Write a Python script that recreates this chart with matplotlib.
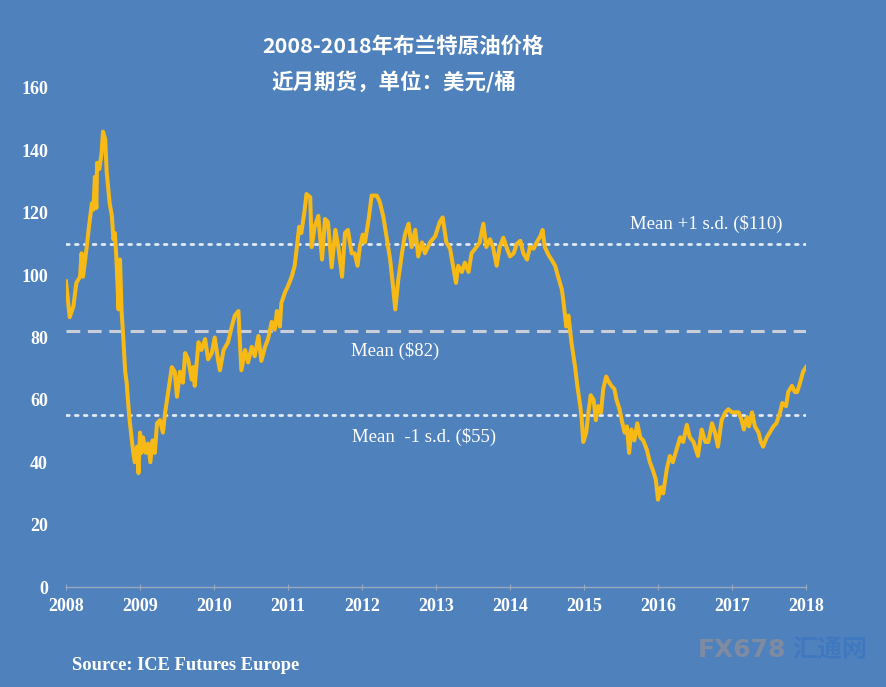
import matplotlib.pyplot as plt

# Brent front-month (fractional year, USD/bbl)
dates = [
    2008.00, 2008.05, 2008.10, 2008.14, 2008.19, 2008.21, 2008.23, 2008.28, 2008.31, 2008.35,
    2008.37, 2008.39, 2008.41, 2008.42, 2008.45, 2008.48, 2008.50, 2008.53, 2008.55, 2008.59,
    2008.62, 2008.64, 2008.66, 2008.68, 2008.71, 2008.73, 2008.75, 2008.77, 2008.80, 2008.82,
    2008.84, 2008.86, 2008.89, 2008.91, 2008.93, 2008.96, 2008.98, 2009.00, 2009.02, 2009.04,
    2009.08, 2009.11, 2009.14, 2009.17, 2009.20, 2009.23, 2009.27, 2009.31, 2009.34, 2009.38,
    2009.43, 2009.47, 2009.50, 2009.54, 2009.58, 2009.61, 2009.65, 2009.70, 2009.72, 2009.74,
    2009.79, 2009.83, 2009.88, 2009.92, 2009.97, 2010.01, 2010.06, 2010.08, 2010.13, 2010.19,
    2010.24, 2010.28, 2010.33, 2010.35, 2010.37, 2010.42, 2010.46, 2010.51, 2010.55, 2010.60,
    2010.64, 2010.69, 2010.73, 2010.78, 2010.82, 2010.85, 2010.89, 2010.91, 2010.96, 2011.00,
    2011.05, 2011.09, 2011.12, 2011.15, 2011.18, 2011.22, 2011.25, 2011.30, 2011.32, 2011.36,
    2011.41, 2011.46, 2011.50, 2011.54, 2011.59, 2011.64, 2011.68, 2011.73, 2011.77, 2011.81,
    2011.86, 2011.90, 2011.94, 2011.97, 2012.01, 2012.04, 2012.09, 2012.13, 2012.20, 2012.24,
    2012.29, 2012.33, 2012.38, 2012.41, 2012.45, 2012.49, 2012.54, 2012.58, 2012.63, 2012.67,
    2012.72, 2012.76, 2012.81, 2012.85, 2012.92, 2012.99, 2013.05, 2013.09, 2013.14, 2013.19,
    2013.23, 2013.27, 2013.30, 2013.35, 2013.39, 2013.44, 2013.48, 2013.53, 2013.59, 2013.64,
    2013.68, 2013.73, 2013.77, 2013.82, 2013.86, 2013.91, 2013.96, 2014.00, 2014.05, 2014.09,
    2014.14, 2014.18, 2014.23, 2014.27, 2014.32, 2014.36, 2014.41, 2014.44, 2014.47, 2014.52,
    2014.56, 2014.61, 2014.65, 2014.70, 2014.72, 2014.76, 2014.79, 2014.83, 2014.88, 2014.91,
    2014.95, 2014.97, 2014.99, 2015.03, 2015.06, 2015.09, 2015.13, 2015.16, 2015.19, 2015.23,
    2015.26, 2015.30, 2015.33, 2015.37, 2015.41, 2015.44, 2015.48, 2015.51, 2015.55, 2015.58,
    2015.61, 2015.64, 2015.68, 2015.72, 2015.76, 2015.80, 2015.85, 2015.89, 2015.93, 2015.97,
    2016.00, 2016.04, 2016.07, 2016.12, 2016.16, 2016.20, 2016.25, 2016.30, 2016.34, 2016.39,
    2016.43, 2016.48, 2016.54, 2016.59, 2016.64, 2016.68, 2016.73, 2016.77, 2016.81, 2016.86,
    2016.91, 2016.95, 2017.00, 2017.04, 2017.09, 2017.13, 2017.16, 2017.20, 2017.23, 2017.27,
    2017.31, 2017.36, 2017.39, 2017.42, 2017.47, 2017.51, 2017.56, 2017.60, 2017.65, 2017.68,
    2017.73, 2017.76, 2017.81, 2017.85, 2017.88, 2017.92, 2017.96, 2018.00,
]
prices = [
    98.0, 86.5, 90.0, 97.5, 99.5, 107.0, 99.5, 109.0, 115.5, 123.0,
    121.0, 131.5, 121.5, 136.0, 134.0, 139.0, 146.0, 143.5, 133.0, 123.0,
    119.0, 111.5, 113.5, 106.0, 89.0, 105.0, 89.0, 81.5, 69.0, 65.5,
    59.0, 53.5, 47.0, 43.0, 40.0, 45.0, 36.5, 49.5, 43.0, 48.0,
    43.0, 46.0, 40.0, 47.0, 43.0, 52.5, 53.5, 49.5, 56.0, 62.5,
    70.5, 69.0, 61.0, 69.0, 65.5, 75.0, 73.0, 66.5, 70.5, 64.5,
    78.5, 76.0, 79.5, 73.0, 75.0, 80.0, 72.0, 69.5, 76.0, 78.5,
    83.5, 87.0, 88.5, 78.5, 69.5, 76.0, 72.0, 77.0, 74.0, 80.5,
    72.5, 77.0, 79.5, 85.0, 82.5, 88.5, 83.5, 91.0, 94.5, 96.5,
    99.5, 103.0, 109.0, 115.5, 113.5, 120.0, 126.0, 125.0, 109.0, 115.5,
    119.0, 105.0, 118.0, 117.0, 102.5, 114.5, 109.0, 99.5, 113.5, 114.5,
    107.0, 107.0, 103.0, 109.0, 113.0, 110.5, 118.0, 125.5, 125.5, 123.5,
    118.5, 112.5, 105.0, 98.5, 89.0, 98.5, 107.0, 113.0, 116.5, 109.0,
    114.5, 106.0, 110.5, 107.0, 110.5, 112.5, 117.0, 118.5, 110.5, 108.5,
    103.0, 97.5, 103.0, 101.0, 104.0, 101.0, 107.0, 108.5, 110.5, 116.5,
    109.0, 111.5, 109.0, 103.0, 109.0, 112.0, 108.5, 106.0, 107.0, 110.0,
    111.0, 107.0, 105.0, 109.0, 108.5, 110.5, 112.5, 114.5, 109.0, 106.5,
    105.0, 103.0, 99.5, 95.5, 92.0, 83.5, 87.0, 78.5, 70.5, 64.5,
    58.0, 53.5, 46.5, 49.5, 56.0, 61.5, 60.0, 53.5, 58.0, 56.0,
    63.5, 67.5, 66.0, 64.5, 63.5, 60.0, 57.0, 53.5, 49.5, 51.5,
    43.0, 50.5, 47.0, 52.5, 48.0, 47.0, 44.0, 40.0, 37.5, 34.5,
    28.0, 32.0, 30.0, 38.0, 42.0, 40.0, 44.0, 48.0, 46.5, 52.0,
    48.0, 46.5, 42.0, 50.5, 46.5, 46.5, 52.5, 49.5, 45.0, 53.5,
    56.0, 57.0, 56.0, 56.0, 56.0, 53.5, 50.5, 54.5, 51.5, 56.0,
    51.5, 49.5, 46.5, 45.0, 48.0, 49.5, 51.5, 52.5, 56.0, 59.0,
    58.0, 62.5, 64.5, 62.5, 62.5, 65.5, 69.0, 70.5,
]

mean_levels = [110, 82, 55]
mean_labels = ['Mean +1 s.d. ($110)', 'Mean ($82)', 'Mean  -1 s.d. ($55)']
years = list(range(2008, 2019))
y_ticks = list(range(0, 161, 20))

bg = '#4f81bd'
gold = '#f7b915'
serif = 'Liberation Serif'
cjk = ['Noto Sans CJK SC', 'DejaVu Sans']

fig = plt.figure(figsize=(8.86, 6.87), dpi=100, facecolor=bg)
ax = fig.add_axes([66 / 886, 1 - 587 / 687, 740 / 886, 499 / 687])
ax.set_facecolor(bg)

# mean and +/- 1 s.d. reference lines
ax.axhline(mean_levels[0], color='#e4eaf3', lw=2, ls=(0, (1, 2.2)), dash_capstyle='round')
ax.axhline(mean_levels[1], color='#c9ced8', lw=2.2, ls=(0, (4.5, 2.5)))
ax.axhline(mean_levels[2], color='#e4eaf3', lw=2, ls=(0, (1, 2.2)), dash_capstyle='round')

ax.plot(dates, prices, color=gold, lw=2.9, solid_joinstyle='round')

label_font = dict(family=serif, size=13.5, color='white', ha='center', va='center')
ax.text(2016.65, 116.3, mean_labels[0], **label_font)
ax.text(2012.45, 75.8, mean_labels[1], **label_font)
ax.text(2012.84, 48.2, mean_labels[2], **label_font)

ax.set_xlim(2008, 2018)
ax.set_ylim(0, 160)
ax.set_xticks(years)
ax.set_yticks(y_ticks)
ax.set_xticklabels([str(y) for y in years])
for side in ['left', 'right', 'top']:
    ax.spines[side].set_visible(False)
ax.spines['bottom'].set_color('#9aa8c0')
ax.spines['bottom'].set_linewidth(1)
ax.tick_params(axis='x', colors='#9aa8c0', length=4, direction='inout', pad=6)
ax.tick_params(axis='y', length=0, pad=13)
for lab in ax.get_xticklabels() + ax.get_yticklabels():
    lab.set_fontfamily(serif)
    lab.set_fontweight('bold')
    lab.set_fontsize(13)
    lab.set_color('white')

fig.text(403 / 886, 1 - 46 / 687, '2008-2018年布兰特原油价格', family=cjk, weight='bold',
         size=15.5, color='white', ha='center', va='center')
fig.text(394 / 886, 1 - 82 / 687, '近月期货，单位：美元/桶', family=cjk, weight='bold',
         size=15.5, color='white', ha='center', va='center')
fig.text(72 / 886, 1 - 665 / 687, 'Source: ICE Futures Europe', family=serif, weight='bold',
         size=13.3, color='white', ha='left', va='center')

# faint watermark
fig.text(742 / 886, 1 - 650 / 687, 'FX678', family='DejaVu Sans', weight='bold', size=18,
         color='#d9a06a', alpha=0.35, ha='center', va='center')
fig.text(830 / 886, 1 - 650 / 687, '汇通网', family=cjk, weight='bold', size=18,
         color='#2f6fc4', alpha=0.45, ha='center', va='center')

fig.savefig('out.png', dpi=100, facecolor=bg)
